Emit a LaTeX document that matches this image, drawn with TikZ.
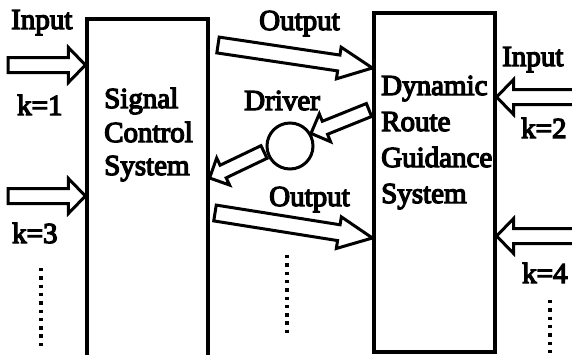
\documentclass[tikz,border=0pt]{standalone}
\usepackage{fontspec}
\usetikzlibrary{calc}
\newfontfamily\lbl{Liberation Serif}
% glyphs filled and stroked, for a heavier print
\newcommand\heavy[1]{\special{pdf:literal direct 2 Tr 1.3 w}#1\special{pdf:literal direct 0 Tr}}

% hollow block arrow: #1 tail, #2 tip, #3 half shaft width,
% #4 half head width, #5 head length
\newcommand\hollowarrow[5]{%
  \coordinate (hb) at ($(#2)!#5!(#1)$);
  \draw[outline]
    ($(#1)!#3!90:(#2)$) -- ($(hb)!#3!-90:(#1)$) -- ($(hb)!#4!-90:(#1)$)
    -- (#2) -- ($(hb)!#4!90:(#1)$) -- ($(hb)!#3!90:(#1)$)
    -- ($(#1)!#3!-90:(#2)$) -- cycle;}

\begin{document}
\begin{tikzpicture}[x=1pt,y=-1pt,
  outline/.style={line width=3pt, line join=miter, fill=white},
  sysbox/.style={draw, line width=3.2pt, rectangle, inner sep=0pt},
  txt/.style={font=\lbl\fontsize{29}{34}\selectfont, inner sep=0pt, anchor=base west},
  dotcol/.style={line width=3.4pt, dash pattern=on 3.4pt off 4.9pt}]
\useasboundingbox (0,0) rectangle (572,354);
\clip (0,0) rectangle (572,354);

% the two systems
\node[sysbox, minimum width=121pt, minimum height=362pt] (scs) at (147.5,200) {};
\node[sysbox, minimum width=121pt, minimum height=339pt] (drg) at (434.5,182.5) {};
\node[draw, circle, line width=3pt, minimum size=46pt, inner sep=0pt] (drv) at (290,146) {};

% box texts
\node[txt] (sc1) at (104,108) {\heavy{Signal}};
\node[txt] (sc2) at (104,142) {\heavy{Control}};
\node[txt] (sc3) at (104,175) {\heavy{System}};
\node[txt] (dr1) at (381,95) {\heavy{Dynamic}};
\node[txt] (dr2) at (381,131) {\heavy{Route}};
\node[txt] (dr3) at (381,167) {\heavy{Guidance}};
\node[txt] (dr4) at (381,203) {\heavy{System}};

% labels
\node[txt] (inL) at (11,29) {\heavy{Input}};
\node[txt] (k1) at (17,115) {\heavy{k=1}};
\node[txt] (k3) at (12,243) {\heavy{k=3}};
\node[txt] (inR) at (502,66) {\heavy{Input}};
\node[txt] (k2) at (521,138) {\heavy{k=2}};
\node[txt] (k4) at (522,283) {\heavy{k=4}};
\node[txt] (outT) at (259,30) {\heavy{Output}};
\node[txt] (outB) at (269,206) {\heavy{Output}};
\node[txt] (drvl) at (244,110) {\heavy{Driver}};

% arrow end points
\coordinate (in1t) at (8,65);   \coordinate (in1h) at (scs.west |- 0,65);
\coordinate (in3t) at (8,196);  \coordinate (in3h) at (scs.west |- 0,196);
\coordinate (in2t) at (580,97); \coordinate (in2h) at (drg.east |- 0,97);
\coordinate (in4t) at (580,236);\coordinate (in4h) at (drg.east |- 0,236);
\coordinate (o1t) at (218,45);  \coordinate (o1h) at (drg.west |- 0,68);
\coordinate (o2t) at (215,213); \coordinate (o2h) at (drg.west |- 0,238);
\coordinate (d1t) at (369,110); \coordinate (d1h) at (drv.31);
\coordinate (d2t) at (264,152); \coordinate (d2h) at (scs.east |- 0,178);

\hollowarrow{in1t}{in1h}{7.5pt}{17.5pt}{17pt}
\hollowarrow{in3t}{in3h}{7.5pt}{17.5pt}{17pt}
\hollowarrow{in2t}{in2h}{7.5pt}{17.5pt}{17pt}
\hollowarrow{in4t}{in4h}{7.5pt}{17.5pt}{17pt}
\hollowarrow{o1t}{o1h}{8pt}{16pt}{34pt}
\hollowarrow{o2t}{o2h}{8pt}{16pt}{34pt}
\hollowarrow{d1t}{d1h}{7pt}{15pt}{15pt}
\hollowarrow{d2t}{d2h}{7pt}{15pt}{15pt}

% continuation dots
\coordinate (dl1) at (41,268);  \coordinate (dl2) at (41,350);
\coordinate (dm1) at (287,255); \coordinate (dm2) at (287,336);
\coordinate (dr1x) at (550,300); \coordinate (dr2x) at (550,354);
\draw[dotcol] (dl1) -- (dl2);
\draw[dotcol] (dm1) -- (dm2);
\draw[dotcol] (dr1x) -- (dr2x);
\end{tikzpicture}
\end{document}
